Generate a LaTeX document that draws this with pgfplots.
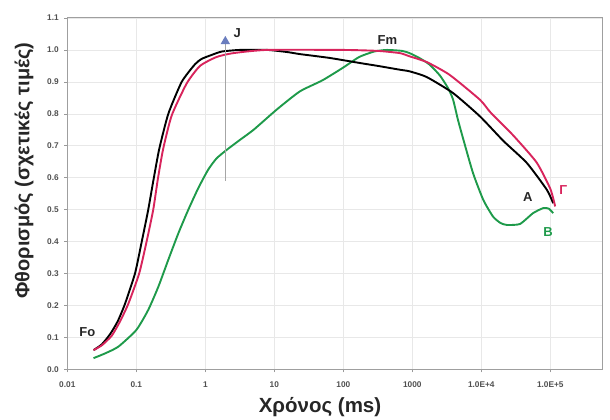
\documentclass[border=0pt]{standalone}
\usepackage{pgfplots}
\pgfplotsset{compat=1.18}
\usepackage{fontspec}
\setmainfont{Liberation Sans}
\definecolor{cRed}{HTML}{D8245C}
\definecolor{cGreen}{HTML}{1E9A4A}
\definecolor{cTri}{HTML}{6A7DBE}
\definecolor{cTick}{HTML}{505050}
\begin{document}
\begin{tikzpicture}
\useasboundingbox (0,0) rectangle (610pt,420pt);
\begin{axis}[
  at={(67.3pt,50.7pt)}, anchor=south west,
  scale only axis, width=535.4pt, height=351.3pt,
  xmode=log, xmin=0.01, xmax=5.74e5,
  ymin=0, ymax=1.1,
  xtick={0.01,0.1,1,10,100,1000,10000,100000},
  xticklabels={0.01,0.1,1,10,100,1000,1.0E+4,1.0E+5},
  ytick={0,0.1,0.2,0.3,0.4,0.5,0.6,0.7,0.8,0.9,1.0,1.1},
  /pgf/number format/assume math mode=true,
  ticklabel style={font=\bfseries\fontsize{8.3}{9}\selectfont, text=cTick},
  xticklabel style={yshift=-6pt},
  yticklabel style={xshift=-2pt,/pgf/number format/.cd,fixed,fixed zerofill,precision=1},
  tick pos=left, tick align=outside, major tick length=3pt,
  minor tick num=0, minor x tick style={draw=none},
  tick style={draw=gray!80, line width=0.6pt},
  grid=major, major grid style={draw=gray!18, line width=0.6pt},
  axis line style={draw=gray!75, line width=1pt},
  clip=false,
  every axis plot/.append style={line width=1.9pt},
]
\addplot[cGreen, smooth, tension=0.35] coordinates {
(0.0240,0.035) (0.0355,0.05) (0.0550,0.071) (0.1,0.123) (0.149,0.186)
(0.209,0.259) (0.291,0.343) (0.407,0.426) (0.568,0.50) (0.794,0.568)
(1.10,0.625) (1.45,0.660) (2.04,0.687) (3.16,0.718) (5.01,0.75)
(10.8,0.813) (23.4,0.87) (50,0.905) (100,0.945) (170,0.978) (280,0.995)
(427,1.0) (708,0.997) (912,0.99) (1260,0.975) (1780,0.954) (2510,0.92)
(3300,0.88) (3890,0.845) (4600,0.78) (5500,0.719) (7590,0.614)
(10700,0.53) (14800,0.478) (19000,0.458) (23400,0.452) (36300,0.455)
(56200,0.489) (79400,0.505) (95000,0.503) (110000,0.489)};
\addplot[black, smooth, tension=0.35] coordinates {
(0.0240,0.06) (0.0316,0.078) (0.0417,0.11) (0.0537,0.15) (0.0686,0.205)
(0.0957,0.30) (0.120,0.40) (0.149,0.50) (0.178,0.595) (0.215,0.69)
(0.291,0.80) (0.455,0.90) (0.708,0.955) (0.887,0.972) (1.26,0.985)
(1.74,0.995) (3.16,1.0) (7.94,1.0) (15.8,0.993) (23.4,0.987) (63.1,0.975)
(174,0.959) (316,0.95) (661,0.938) (912,0.933) (1620,0.915) (3890,0.865)
(9550,0.792) (20900,0.715) (45700,0.646) (89100,0.562) (110000,0.52)};
\addplot[cRed, smooth, tension=0.35] coordinates {
(0.0240,0.06) (0.0316,0.075) (0.0440,0.105) (0.0575,0.148) (0.0766,0.205)
(0.110,0.30) (0.141,0.40) (0.176,0.50) (0.205,0.595) (0.245,0.69)
(0.326,0.795) (0.537,0.895) (0.838,0.95) (1.46,0.978) (2.55,0.99) (7.76,1.0)
(100,1.0) (316,0.997) (661,0.99) (912,0.98) (1620,0.962) (3470,0.922)
(9550,0.844) (13500,0.805) (28800,0.733) (63100,0.648) (100000,0.565)
(117500,0.51)};
\addplot[gray!70, line width=0.8pt] coordinates {(1.95,0.59) (1.95,1.02)};
\addplot[only marks, mark=triangle*, mark size=3.5pt, color=cTri] coordinates {(1.95,1.027)};
\node[font=\bfseries\fontsize{13}{14}\selectfont, text=black!85] at (axis cs:2.91,1.053) {J};
\node[font=\bfseries\fontsize{13}{14}\selectfont, text=black!85] at (axis cs:435,1.03) {Fm};
\node[font=\bfseries\fontsize{13}{14}\selectfont, text=black!85] at (axis cs:0.0195,0.118) {Fo};
\node[font=\bfseries\fontsize{13}{14}\selectfont, text=black!85] at (axis cs:47000,0.538) {A};
\node[font=\bfseries\fontsize{13}{14}\selectfont, text=cRed] at (axis cs:154000,0.562) {Γ};
\node[font=\bfseries\fontsize{13}{14}\selectfont, text=cGreen] at (axis cs:92700,0.431) {B};
\end{axis}
\node[font=\bfseries\fontsize{20.5}{22}\selectfont, text=black!85] at (320pt,13pt) {Χρόνος (ms)};
\node[rotate=90, font=\bfseries\fontsize{20}{22}\selectfont, text=black!85] at (24pt,249.5pt) {Φθορισμός (σχετικές τιμές)};
\end{tikzpicture}
\end{document}
